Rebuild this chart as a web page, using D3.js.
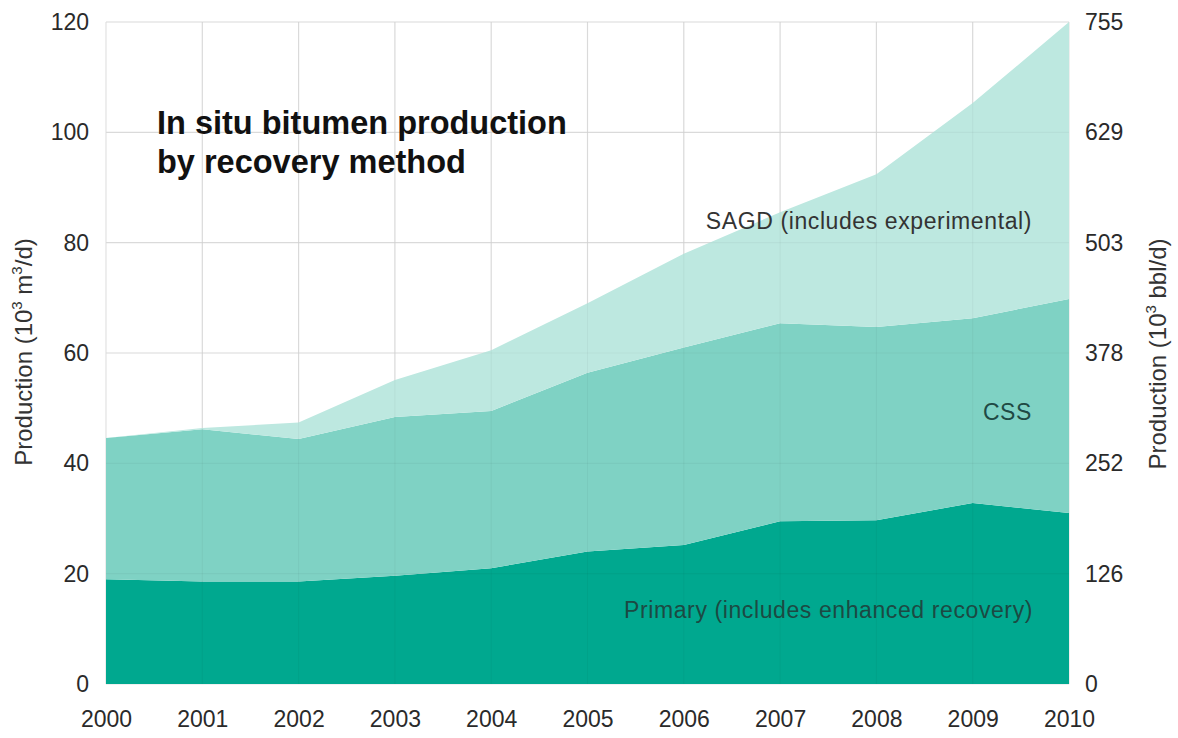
<!DOCTYPE html>
<html>
<head>
<meta charset="utf-8">
<script src="https://cdn.jsdelivr.net/npm/d3@7"></script>
<style>
  html, body { margin: 0; padding: 0; background: #fff; }
  svg { display: block; font-family: "Liberation Sans", Arial, sans-serif; }
</style>
</head>
<body>
<svg id="chart" width="1178" height="738"></svg>
<script>
// ---- Data ----
const years = [2000, 2001, 2002, 2003, 2004, 2005, 2006, 2007, 2008, 2009, 2010];
const primary = [19.0, 18.6, 18.6, 19.6, 21.0, 24.0, 25.2, 29.5, 29.7, 32.8, 31.0];
const css =     [25.6, 27.6, 25.8, 28.8, 28.5, 32.4, 35.8, 35.9, 35.0, 33.5, 38.8];
const sagd =    [0.0, 0.2, 3.0, 6.7, 11.0, 12.6, 17.0, 20.1, 27.7, 39.0, 50.2];
const leftTicks = [0, 20, 40, 60, 80, 100, 120];
const rightTickLabels = ["0", "126", "252", "378", "503", "629", "755"];
const seriesNames = ["primary", "css", "sagd"];
const seriesLabels = ["Primary (includes enhanced recovery)", "CSS", "SAGD (includes experimental)"];
const colors = ["#00a88f", "#7fd2c4", "#bde8e0"];

const table = years.map((y, i) => ({ year: y, primary: primary[i], css: css[i], sagd: sagd[i] }));

// ---- Layout ----
const svg = d3.select("#chart");
const x = d3.scaleLinear().domain([2000, 2010]).range([106, 1069]);
const y = d3.scaleLinear().domain([0, 120]).range([684, 22]);

// grid below
const grid = svg.append("g");
grid.selectAll("line.v").data(years).join("line")
  .attr("x1", d => x(d)).attr("x2", d => x(d))
  .attr("y1", y(120)).attr("y2", y(0))
  .attr("stroke", "#e2e2e2").attr("stroke-width", 1.2);
grid.selectAll("line.h").data(leftTicks).join("line")
  .attr("x1", x(2000)).attr("x2", x(2010))
  .attr("y1", d => y(d)).attr("y2", d => y(d))
  .attr("stroke", "#e2e2e2").attr("stroke-width", 1.2);

// stacked areas
const stack = d3.stack().keys(seriesNames);
const layers = stack(table);
const area = d3.area()
  .x(d => x(d.data.year))
  .y0(d => y(d[0]))
  .y1(d => y(d[1]));
svg.append("g").selectAll("path").data(layers).join("path")
  .attr("d", area)
  .attr("fill", (d, i) => colors[i]);

// faint grid on top of areas
const grid2 = svg.append("g");
grid2.selectAll("line.v").data(years.slice(1, -1)).join("line")
  .attr("x1", d => x(d)).attr("x2", d => x(d))
  .attr("y1", y(120)).attr("y2", y(0))
  .attr("stroke", "rgba(0,0,0,0.035)").attr("stroke-width", 1.2);
grid2.selectAll("line.h").data(leftTicks.slice(1)).join("line")
  .attr("x1", x(2000)).attr("x2", x(2010))
  .attr("y1", d => y(d)).attr("y2", d => y(d))
  .attr("stroke", "rgba(0,0,0,0.035)").attr("stroke-width", 1.2);

// axes
const leftAxis = d3.axisLeft(y).tickValues(leftTicks).tickSize(0).tickPadding(17);
const gL = svg.append("g").attr("transform", `translate(${x(2000)},0)`).call(leftAxis);
const rightAxis = d3.axisRight(y).tickValues(leftTicks).tickSize(0).tickPadding(16)
  .tickFormat((d, i) => rightTickLabels[i]);
const gR = svg.append("g").attr("transform", `translate(${x(2010)},0)`).call(rightAxis);
const bottomAxis = d3.axisBottom(x).tickValues(years).tickFormat(d3.format("d")).tickSize(0).tickPadding(27);
const gB = svg.append("g").attr("transform", `translate(0,${y(0)})`).call(bottomAxis);
[gL, gR, gB].forEach(g => {
  g.select(".domain").remove();
  g.selectAll("text").attr("font-size", 23).attr("fill", "#2a2a2a")
    .attr("font-family", '"Liberation Sans", Arial, sans-serif');
});

// axis titles
svg.append("text")
  .attr("transform", `translate(32,352) rotate(-90)`)
  .attr("text-anchor", "middle").attr("font-size", 24).attr("fill", "#333")
  .html('Production (10<tspan dy="-10" font-size="15">3</tspan><tspan dy="10"> m</tspan><tspan dy="-10" font-size="15">3</tspan><tspan dy="10">/d)</tspan>');
svg.append("text")
  .attr("transform", `translate(1166,354) rotate(-90)`)
  .attr("text-anchor", "middle").attr("font-size", 24).attr("fill", "#333")
  .html('Production (10<tspan dy="-10" font-size="15">3</tspan><tspan dy="10"> bbl/d)</tspan>');

// title
const title = svg.append("text").attr("x", 157).attr("font-size", 32.5).attr("font-weight", "bold").attr("fill", "#111");
title.append("tspan").attr("x", 157).attr("y", 134).text("In situ bitumen production");
title.append("tspan").attr("x", 157).attr("y", 173).text("by recovery method");

// series labels
const labelPos = [
  { x: 1033, y: 618, fill: "#1c4a43" },
  { x: 1032, y: 420, fill: "#1f4a44" },
  { x: 1032, y: 229, fill: "#333" }
];
svg.append("g").selectAll("text").data(seriesLabels).join("text")
  .attr("x", (d, i) => labelPos[i].x)
  .attr("y", (d, i) => labelPos[i].y)
  .attr("text-anchor", "end")
  .attr("font-size", 23)
  .attr("letter-spacing", 0.6)
  .attr("fill", (d, i) => labelPos[i].fill)
  .text(d => d);
</script>
</body>
</html>
